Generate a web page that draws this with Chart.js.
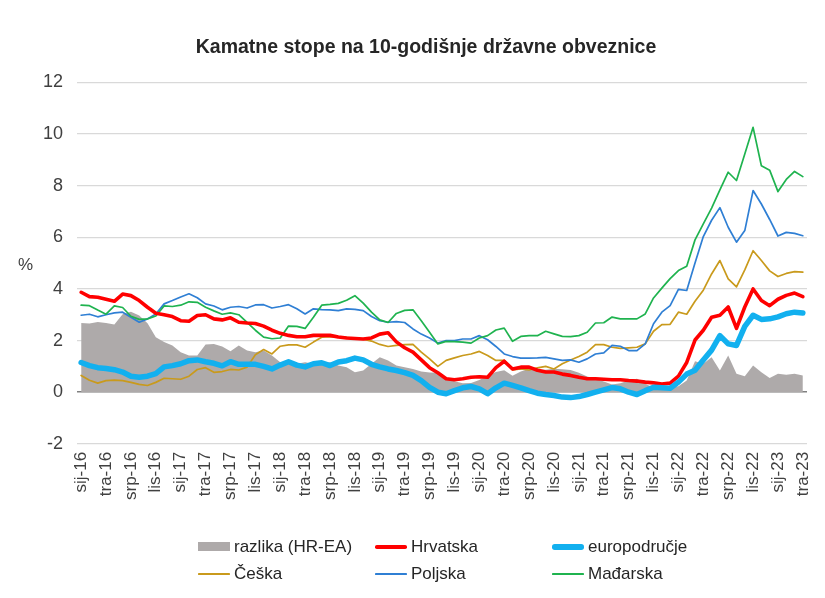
<!DOCTYPE html>
<html>
<head>
<meta charset="utf-8">
<script src="https://cdn.jsdelivr.net/npm/chart.js@4.4.0/dist/chart.umd.min.js"></script>
<style>
  body { margin: 0; background: #fff; font-family: "Liberation Sans", Arial, sans-serif; }
  #okvir { position: relative; width: 825px; height: 598px; }
  #postotak { position: absolute; left: 18px; top: 255px; font-size: 17px; color: #404040; }
  #legenda {
    position: absolute; left: 198px; top: 533px;
    display: grid; grid-template-columns: 177px 177px 160px; grid-auto-rows: 27px;
    font-size: 17px; color: #262626;
  }
  .stavka { display: flex; align-items: center; }
  .znak { width: 32px; margin-right: 4px; }
</style>
</head>
<body>
<div id="okvir">
  <canvas id="grafikon" width="825" height="598"></canvas>
  <div id="postotak">%</div>
  <div id="legenda"></div>
</div>
<script>
const mjeseci = ['sij', 'velj', 'ožu', 'tra', 'svi', 'lip', 'srp', 'kol', 'ruj', 'lis', 'stu', 'pro'];
const godine = ['16', '17', '18', '19', '20', '21', '22', '23'];

const razlika = [2.68, 2.66, 2.72, 2.68, 2.62, 3.02, 3.12, 2.97, 2.67, 2.13, 1.94, 1.81,
  1.55, 1.42, 1.42, 1.85, 1.87, 1.77, 1.59, 1.81, 1.61, 1.55, 1.61, 1.42,
  1.16, 1.12, 1.10, 1.16, 1.10, 1.10, 1.16, 1.03, 0.97, 0.77, 0.84, 1.10,
  1.35, 1.23, 1.03, 0.97, 0.90, 0.80, 0.76, 0.75, 0.58, 0.42, 0.35, 0.36,
  0.47, 0.64, 0.78, 0.85, 0.64, 0.80, 0.91, 0.89, 0.87, 0.91, 0.89, 0.86,
  0.75, 0.61, 0.52, 0.41, 0.30, 0.35, 0.45, 0.52, 0.33, 0.17, 0.15, 0.20,
  0.23, 0.45, 1.20, 1.10, 1.35, 0.84, 1.42, 0.71, 0.62, 1.03, 0.77, 0.55,
  0.71, 0.68, 0.71, 0.65];

const hrvatska = [3.87, 3.70, 3.68, 3.60, 3.52, 3.80, 3.74, 3.55, 3.29, 3.06, 3.00, 2.93,
  2.77, 2.75, 2.97, 3.00, 2.84, 2.80, 2.88, 2.71, 2.68, 2.66, 2.56, 2.40,
  2.28, 2.20, 2.15, 2.15, 2.20, 2.20, 2.20, 2.14, 2.10, 2.08, 2.06, 2.10,
  2.25, 2.30, 1.95, 1.72, 1.55, 1.25, 0.95, 0.75, 0.52, 0.48, 0.52, 0.58,
  0.60, 0.58, 0.95, 1.20, 0.90, 0.97, 0.97, 0.85, 0.78, 0.78, 0.70, 0.65,
  0.58, 0.52, 0.52, 0.50, 0.48, 0.48, 0.45, 0.43, 0.39, 0.36, 0.32, 0.35,
  0.62, 1.15, 2.02, 2.40, 2.90, 2.98, 3.30, 2.47, 3.30, 4.00, 3.55, 3.35,
  3.60, 3.75, 3.84, 3.70];

const europodrucje = [1.15, 1.03, 0.95, 0.92, 0.87, 0.78, 0.62, 0.58, 0.62, 0.72, 0.98, 1.03,
  1.10, 1.22, 1.25, 1.18, 1.12, 1.02, 1.18, 1.08, 1.08, 1.08, 1.00, 0.90,
  1.05, 1.18, 1.05, 0.98, 1.10, 1.14, 1.03, 1.17, 1.22, 1.32, 1.25, 1.08,
  0.98, 0.90, 0.84, 0.76, 0.65, 0.45, 0.19, 0.00, -0.06, 0.06, 0.17, 0.22,
  0.13, -0.06, 0.17, 0.35, 0.26, 0.17, 0.06, -0.04, -0.09, -0.13, -0.19, -0.21,
  -0.17, -0.09, 0.00, 0.09, 0.18, 0.13, 0.00, -0.09, 0.06, 0.19, 0.17, 0.15,
  0.39, 0.70, 0.85, 1.25, 1.63, 2.19, 1.87, 1.81, 2.55, 2.98, 2.82, 2.84,
  2.92, 3.04, 3.10, 3.07];

const ceska = [0.65, 0.46, 0.35, 0.45, 0.47, 0.45, 0.38, 0.30, 0.26, 0.38, 0.54, 0.52,
  0.50, 0.62, 0.88, 0.95, 0.77, 0.80, 0.88, 0.86, 0.97, 1.45, 1.65, 1.48,
  1.78, 1.83, 1.83, 1.74, 1.94, 2.13, 2.15, 2.13, 2.12, 2.09, 2.05, 1.98,
  1.85, 1.77, 1.81, 1.84, 1.85, 1.55, 1.29, 1.00, 1.23, 1.33, 1.42, 1.48,
  1.58, 1.42, 1.23, 1.23, 0.86, 0.90, 0.86, 0.94, 1.00, 0.90, 1.10, 1.25,
  1.38, 1.55, 1.84, 1.84, 1.74, 1.70, 1.72, 1.74, 1.87, 2.36, 2.62, 2.63,
  3.10, 3.02, 3.52, 3.95, 4.58, 5.10, 4.39, 4.08, 4.74, 5.48, 5.10, 4.70,
  4.48, 4.60, 4.67, 4.65];

const poljska = [2.98, 3.02, 2.92, 3.00, 3.07, 3.10, 2.90, 2.71, 2.84, 3.03, 3.42, 3.55,
  3.69, 3.81, 3.66, 3.42, 3.34, 3.19, 3.29, 3.32, 3.26, 3.38, 3.39, 3.26,
  3.32, 3.39, 3.23, 3.03, 3.23, 3.20, 3.19, 3.16, 3.23, 3.21, 3.16, 2.93,
  2.77, 2.71, 2.73, 2.70, 2.45, 2.25, 2.10, 1.90, 2.00, 2.00, 2.06, 2.06,
  2.19, 2.03, 1.77, 1.48, 1.38, 1.32, 1.32, 1.33, 1.35, 1.29, 1.23, 1.25,
  1.16, 1.29, 1.48, 1.52, 1.81, 1.78, 1.61, 1.61, 1.87, 2.65, 3.10, 3.35,
  3.98, 3.94, 5.00, 6.03, 6.66, 7.15, 6.39, 5.81, 6.26, 7.81, 7.29, 6.69,
  6.05, 6.19, 6.15, 6.06];

const madarska = [3.37, 3.35, 3.18, 3.02, 3.34, 3.28, 2.94, 2.82, 2.84, 2.95, 3.34, 3.32,
  3.37, 3.50, 3.48, 3.29, 3.15, 3.02, 3.07, 3.00, 2.70, 2.40, 2.13, 2.07,
  2.10, 2.56, 2.55, 2.47, 2.90, 3.37, 3.40, 3.44, 3.56, 3.74, 3.45, 3.10,
  2.80, 2.70, 3.05, 3.17, 3.19, 2.77, 2.32, 1.87, 1.97, 1.96, 1.94, 1.90,
  2.10, 2.19, 2.41, 2.48, 1.97, 2.16, 2.19, 2.19, 2.36, 2.26, 2.16, 2.15,
  2.19, 2.32, 2.68, 2.69, 2.91, 2.84, 2.84, 2.84, 3.03, 3.65, 4.03, 4.40,
  4.71, 4.88, 5.90, 6.52, 7.13, 7.84, 8.52, 8.20, 9.23, 10.26, 8.77, 8.60,
  7.77, 8.24, 8.55, 8.35];

// sij-16 ... tra-23
const oznake = [];
godine.forEach(g => mjeseci.forEach(m => oznake.push(m + '-' + g)));
oznake.length = hrvatska.length;

const FONT = '"Liberation Sans", Arial, sans-serif';

const ctx = document.getElementById('grafikon').getContext('2d');
const chart = new Chart(ctx, {
  type: 'line',
  data: {
    labels: oznake,
    datasets: [
      { label: 'razlika (HR-EA)', data: razlika, fill: 'origin', backgroundColor: '#aeaaaa',
        borderWidth: 0, borderColor: '#aeaaaa', order: 6, legenda: 'povrsina' },
      { label: 'Hrvatska', data: hrvatska, borderColor: '#ff0000', borderWidth: 3.6, order: 2 },
      { label: 'europodručje', data: europodrucje, borderColor: '#12b0ef', borderWidth: 5.5, order: 1 },
      { label: 'Češka', data: ceska, borderColor: '#c99a1c', borderWidth: 1.7, order: 5 },
      { label: 'Poljska', data: poljska, borderColor: '#2f7fd4', borderWidth: 1.7, order: 4 },
      { label: 'Mađarska', data: madarska, borderColor: '#1fb34f', borderWidth: 1.7, order: 3 }
    ]
  },
  options: {
    responsive: false,
    animation: false,
    layout: { padding: { left: 40, right: 13, top: 0, bottom: 90 } },
    elements: {
      point: { radius: 0 },
      line: { tension: 0, borderJoinStyle: 'round', borderCapStyle: 'round', fill: false }
    },
    plugins: {
      legend: { display: false },
      tooltip: { enabled: false },
      title: {
        display: true,
        text: 'Kamatne stope na 10-godišnje državne obveznice',
        color: '#262626',
        font: { family: FONT, size: 19.5, weight: 'bold' },
        padding: { top: 36, bottom: 23 }
      }
    },
    scales: {
      x: {
        offset: true,
        grid: { display: false, drawTicks: false },
        border: { display: false },
        afterFit: s => { s.paddingRight = 18; s.paddingLeft = 0; },
        ticks: {
          autoSkip: false,
          minRotation: 90,
          maxRotation: 90,
          padding: 8,
          color: '#404040',
          font: { family: FONT, size: 17 },
          callback: (v, i) => (i % 3 === 0 ? oznake[i] : '')
        }
      },
      y: {
        min: -2,
        max: 12,
        border: { display: false },
        afterFit: s => { s.width = 37; },
        grid: {
          drawTicks: false,
          color: c => (c.tick.value === 0 ? '#808080' : '#d9d9d9'),
          lineWidth: c => (c.tick.value === 0 ? 1.6 : 1.2)
        },
        ticks: {
          stepSize: 2,
          padding: 14,
          color: '#404040',
          font: { family: FONT, size: 18 }
        }
      }
    }
  }
});

// legenda u tri stupca
const legenda = document.getElementById('legenda');
chart.data.datasets.forEach(ds => {
  const stavka = document.createElement('div');
  stavka.className = 'stavka';
  const znak = document.createElement('span');
  znak.className = 'znak';
  if (ds.legenda === 'povrsina') {
    znak.style.height = '9px';
    znak.style.background = ds.backgroundColor;
  } else {
    znak.style.height = Math.max(2, Math.round(ds.borderWidth)) + 'px';
    znak.style.background = ds.borderColor;
    znak.style.borderRadius = (ds.borderWidth / 2) + 'px';
  }
  const tekst = document.createElement('span');
  tekst.textContent = ds.label;
  stavka.appendChild(znak);
  stavka.appendChild(tekst);
  legenda.appendChild(stavka);
});
</script>
</body>
</html>
